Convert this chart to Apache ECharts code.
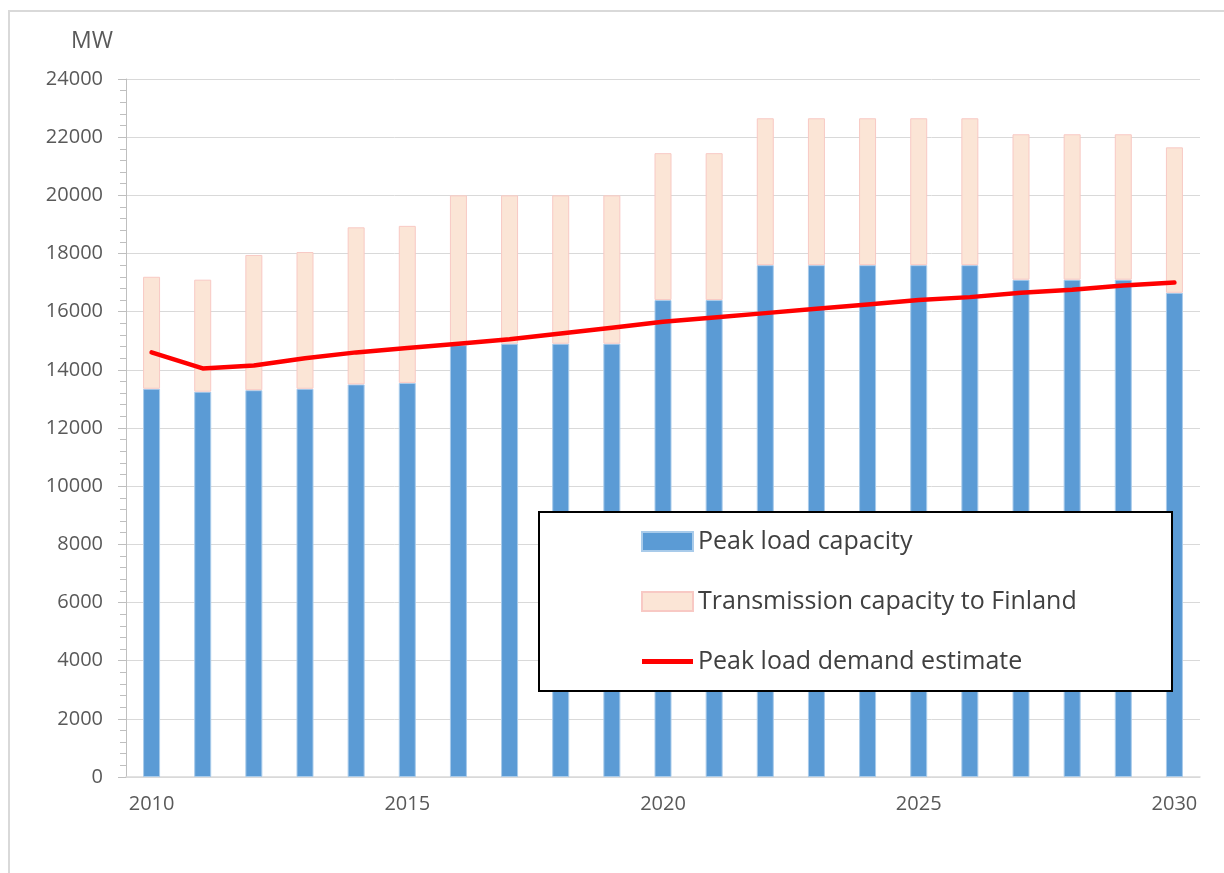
<!DOCTYPE html>
<html>
<head>
<meta charset="utf-8">
<script src="https://cdn.jsdelivr.net/npm/echarts@6/dist/echarts.min.js"></script>
<style>
  html, body { margin: 0; padding: 0; background: #fff; }
  #chart { width: 1224px; height: 873px; }
</style>
</head>
<body>
<div id="chart"></div>
<script>
// Years on the category axis
const years = ['2010','2011','2012','2013','2014','2015','2016','2017','2018','2019','2020',
               '2021','2022','2023','2024','2025','2026','2027','2028','2029','2030'];

// Peak load capacity, MW
const peakCapacity = [13350, 13250, 13300, 13350, 13500, 13550, 14850, 14900, 14900, 14900, 16400,
                      16400, 17600, 17600, 17600, 17600, 17600, 17100, 17100, 17100, 16650];

// Transmission capacity to Finland, MW (stacked on top of peak capacity)
const transmission = [3850, 3850, 4650, 4700, 5400, 5400, 5150, 5100, 5100, 5100, 5050,
                      5050, 5050, 5050, 5050, 5050, 5050, 5000, 5000, 5000, 5000];

// Peak load demand estimate, MW
const demand = [14600, 14050, 14150, 14400, 14600, 14750, 14900, 15050, 15250, 15450, 15650,
                15800, 15950, 16100, 16250, 16400, 16500, 16650, 16750, 16900, 17000];

const FONT = '"Open Sans", sans-serif';
const chart = echarts.init(document.getElementById('chart'), null, { renderer: 'canvas' });

chart.setOption({
  animation: false,
  backgroundColor: '#ffffff',
  textStyle: { fontFamily: FONT },
  grid: { left: 126, right: 24, top: 79, bottom: 96, containLabel: false },
  graphic: [
    {
      type: 'rect', z: 0, silent: true,
      shape: { x: 9, y: 11, width: 1240, height: 900 },
      style: { fill: 'none', stroke: '#d9d9d9', lineWidth: 2 }
    },
    {
      type: 'rect', z: 50, silent: true,
      shape: { x: 539, y: 512, width: 633, height: 179 },
      style: { fill: '#ffffff', stroke: '#000000', lineWidth: 2 }
    }
  ],
  legend: {
    orient: 'vertical',
    left: 641,
    top: 529,
    z: 60,
    itemWidth: 51,
    itemHeight: 19,
    itemGap: 35,
    padding: 0,
    symbolKeepAspect: true,
    textStyle: { fontFamily: FONT, fontSize: 25, color: '#404040' },
    data: [
      { name: 'Peak load capacity', icon: 'rect' },
      { name: 'Transmission capacity to Finland', icon: 'rect' },
      { name: 'Peak load demand estimate', icon: 'path://M0,0L51,0L51,5L0,5Z' }
    ]
  },
  xAxis: {
    type: 'category',
    data: years,
    boundaryGap: true,
    axisLine: { show: true, lineStyle: { color: '#d9d9d9', width: 1.5 } },
    axisTick: { show: false },
    axisLabel: {
      interval: 4,
      margin: 17,
      fontFamily: FONT,
      fontSize: 20,
      color: '#595959'
    },
    splitLine: { show: false }
  },
  yAxis: {
    type: 'value',
    min: 0,
    max: 24000,
    interval: 2000,
    name: 'MW',
    nameLocation: 'end',
    nameGap: 26,
    nameTextStyle: { fontFamily: FONT, fontSize: 23, color: '#595959', align: 'right', padding: [0, 13, 0, 0] },
    axisLine: { show: true, lineStyle: { color: '#bfbfbf', width: 1 } },
    axisTick: { show: true, inside: false, length: 8, lineStyle: { color: '#bfbfbf' } },
    minorTick: { show: true, splitNumber: 5, length: 6, lineStyle: { color: '#bfbfbf' } },
    axisLabel: {
      margin: 23,
      fontFamily: FONT,
      fontSize: 20,
      color: '#595959',
      formatter: v => String(v)
    },
    splitLine: { show: true, lineStyle: { color: '#d9d9d9', width: 1 } }
  },
  series: [
    {
      name: 'Peak load capacity',
      type: 'bar',
      stack: 'capacity',
      data: peakCapacity,
      barWidth: 17,
      itemStyle: { color: '#5b9bd5', borderColor: '#a9cbea', borderWidth: 1 },
      z: 2
    },
    {
      name: 'Transmission capacity to Finland',
      type: 'bar',
      stack: 'capacity',
      data: transmission,
      barWidth: 17,
      itemStyle: { color: '#fbe5d6', borderColor: '#f8c9c4', borderWidth: 1 },
      z: 2
    },
    {
      name: 'Peak load demand estimate',
      type: 'line',
      data: demand,
      symbol: 'none',
      showSymbol: false,
      lineStyle: { color: '#ff0000', width: 4.5, cap: 'round', join: 'round' },
      itemStyle: { color: '#ff0000' },
      z: 5
    }
  ]
});
</script>
</body>
</html>
